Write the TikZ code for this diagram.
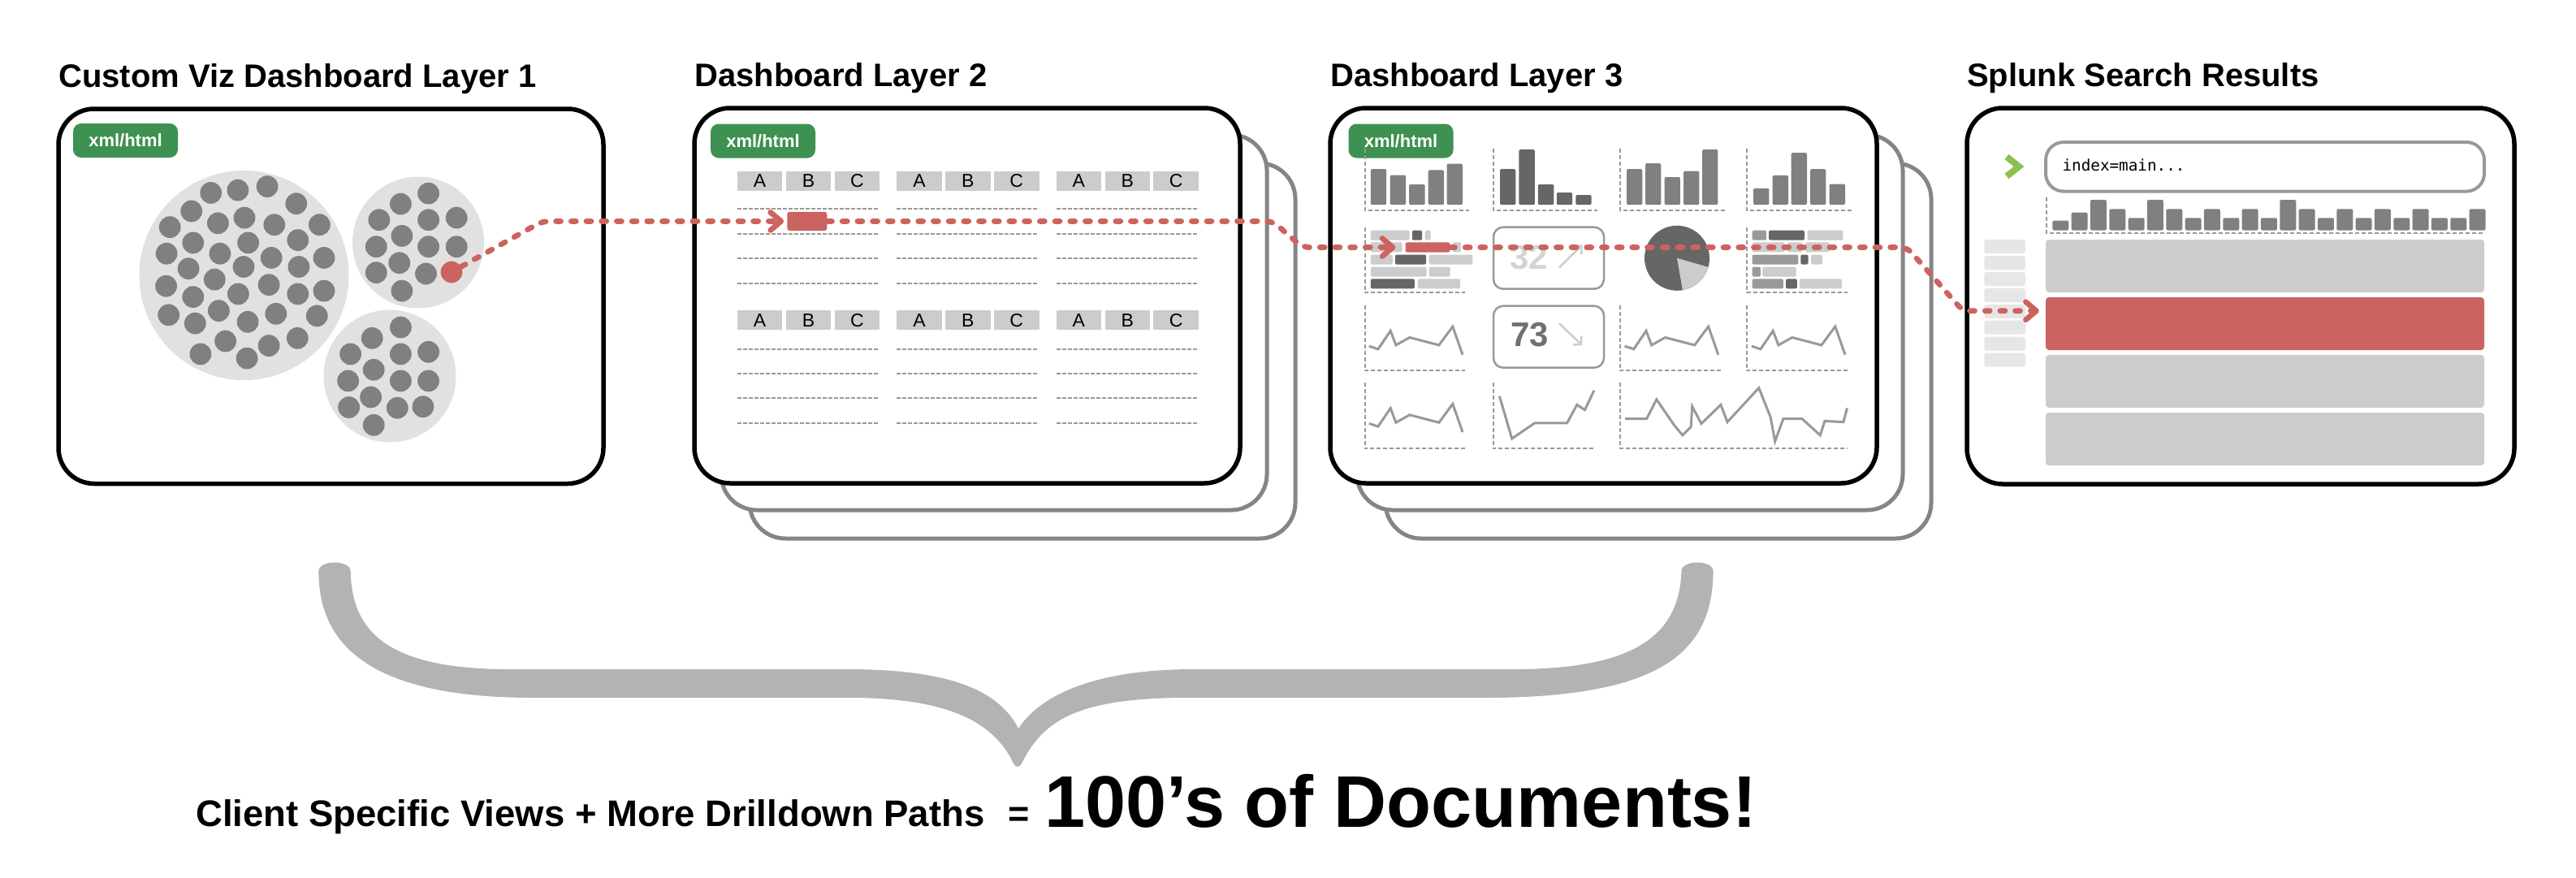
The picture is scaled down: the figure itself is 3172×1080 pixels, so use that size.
\documentclass[tikz,border=0pt]{standalone}
\usepackage{fontspec}
\setmainfont{Liberation Sans}
\newfontfamily\codefont{DejaVu Sans Mono}
\usetikzlibrary{arrows.meta}

\definecolor{linkred}{HTML}{CC6360}
\definecolor{tagGreen}{HTML}{3E9150}
\definecolor{chevGreen}{HTML}{8CC152}
\definecolor{dotGray}{HTML}{808080}
\definecolor{clusterGray}{HTML}{E1E1E1}
\definecolor{cellGray}{HTML}{CCCCCC}
\definecolor{lineGray}{HTML}{999999}
\definecolor{backGray}{HTML}{858585}
\definecolor{darkGray}{HTML}{666666}
\definecolor{braceGray}{HTML}{B3B3B3}
\definecolor{sideGray}{HTML}{E6E6E6}

\begin{document}
\begin{tikzpicture}[x=1pt,y=-1pt,
  panel/.style={draw=black, line width=5.5pt, fill=white, rounded corners=44pt},
  backpanel/.style={draw=backGray, line width=5pt, fill=white, rounded corners=44pt},
  tag/.style={fill=tagGreen, rounded corners=10pt, text=white, inner sep=0pt,
    minimum width=129pt, minimum height=42pt, font=\bfseries\fontsize{22}{22}\selectfont},
  title/.style={anchor=base west, inner sep=0pt, font=\bfseries\fontsize{40}{40}\selectfont},
  cell/.style={fill=cellGray, inner sep=0pt, minimum width=55.5pt, minimum height=24.5pt,
    font=\fontsize{23}{23}\selectfont},
  rowline/.style={draw=lineGray, line width=2pt, dash pattern=on 5pt off 2pt},
  frame/.style={draw=lineGray, line width=2pt, dash pattern=on 5pt off 3pt},
  sparkline/.style={draw=lineGray, line width=3pt},
  kpibox/.style={draw=lineGray, line width=2.5pt, rounded corners=12pt, inner sep=0pt,
    minimum width=136pt, minimum height=76pt},
  kpiarrow/.style={draw=cellGray, line width=2.5pt, -{Straight Barb[length=7pt,width=15pt]}},
  resrow/.style={fill=cellGray, rounded corners=4pt, inner sep=0pt,
    minimum width=540pt, minimum height=65pt},
  link/.style={draw=linkred, line width=6.7pt, dash pattern=on 6pt off 12.7pt,
    line cap=round, rounded corners=8pt,
    -{Straight Barb[length=13pt,width=22pt,line cap=round,line join=round]}},
  spark/.pic={\draw[sparkline] (0,0) -- (11.2,3.7) -- (26.5,-18.8) -- (33.2,-1.2)
     -- (50,-10.6) -- (86.2,-1.2) -- (103.1,-24.1) -- (115.3,10.6);}
]
\useasboundingbox (0,0) rectangle (3172,1080);
\fill[white] (0,0) rectangle (3172,1080);

% ---------- titles ----------
\node[title] (t1) at (72,107) {Custom Viz Dashboard Layer 1};
\node[title] (t2) at (855,106) {Dashboard Layer 2};
\node[title] (t3) at (1638,106) {Dashboard Layer 3};
\node[title] (t4) at (2422,106) {Splunk Search Results};

% ---------- panel 1: clustered bubbles ----------
\draw[panel] (72,134) rectangle (743,595.5);
\node[tag] (tag1) at (154.5,173) {xml/html};
\fill[clusterGray] (300.5,339) circle[radius=129];
\fill[clusterGray] (515,298.5) circle[radius=81];
\fill[clusterGray] (480,463) circle[radius=81.5];
\foreach \x/\y in {259.7/237.4, 292.9/234.1, 329.1/229.6, 364.8/250.7, 235.7/260,
  268.4/274.8, 301/268.1, 337.8/276.7, 393.4/276.7, 209.2/279.6, 237.8/298.9,
  270.9/312.2, 305.6/298.9, 366.8/295.6, 205.1/312.2, 334.2/317.4, 399/317.4,
  232.1/330.7, 300/328.5, 367.9/328.5, 264.3/344.1, 204.6/352.2, 293.4/361.9,
  331.1/350.7, 237.8/365.6, 366.8/361.9, 399/358.1, 269.4/382.6, 207.7/387.8,
  240.3/398.1, 305.1/396.3, 339.8/386.3, 390.3/388.9, 277.6/420, 246.9/435.9,
  304.1/441.1, 331.1/425.6, 366.3/416.3,
  527.6/238.1, 493.4/251.1, 466.8/270.7, 527.6/270.7, 562.2/268.1, 494.9/290.4,
  463.3/303.7, 527.6/303.7, 562.2/303.7, 491.8/323.7, 463.3/335.6, 524.5/337,
  494.9/358.1,
  493.4/403, 458.2/416.3, 431.6/435.9, 493.4/435.9, 527.6/433.3, 460.2/455.2,
  428.6/468.9, 493.4/468.9, 527.6/468.9, 456.6/488.9, 429.6/501.5, 489.3/502.2,
  520.9/500.7, 460.2/523.3}
  \fill[dotGray] (\x,\y) circle[radius=13.4];
\node[circle, fill=linkred, inner sep=0pt, minimum size=26.8pt] (src) at (556,335) {};

% ---------- panel 2: tables ----------
\draw[backpanel] (923,201) rectangle (1595,663);
\draw[backpanel] (888,166) rectangle (1560,628);
\draw[panel] (855,133) rectangle (1527,595);
\node[tag] (tag2) at (939.5,173.5) {xml/html};
\foreach \g in {0,1,2}{
  \foreach \c/\l in {0/A,1/B,2/C}{
    \node[cell] (ha-\g-\c) at (935.55+196.4*\g+59.9*\c,222.8) {\l};
    \node[cell] (hb-\g-\c) at (935.55+196.4*\g+59.9*\c,394.2) {\l};
  }
  \foreach \y in {256.5,287.7,318,349,429.5,459.5,489.5,521}
    \draw[rowline] (907.8+196.4*\g,\y) -- ++(175,0);
}
\node[fill=linkred, rounded corners=3pt, inner sep=0pt, minimum width=49pt,
  minimum height=23.3pt] (cellhit) at (993.8,272.4) {};

% ---------- panel 3: charts ----------
\draw[backpanel] (1706,201) rectangle (2378,663);
\draw[backpanel] (1671,166) rectangle (2343,628);
\draw[panel] (1638,133) rectangle (2311,595);
\node[tag] (tag3) at (1725,173.5) {xml/html};

% widget frames
\foreach \l/\r in {1680.6/1809, 1838.8/1967, 1995/2124, 2151/2279.6}
  \draw[frame] (\l,182.9) -- (\l,259) -- (\r,259);
\draw[frame] (1680.6,280) -- (1680.6,360.4) -- (1804,360.4);
\draw[frame] (2151,280) -- (2151,360.4) -- (2274.5,360.4);
\draw[frame] (1680.6,375.5) -- (1680.6,456.3) -- (1804,456.3);
\draw[frame] (1995,375.5) -- (1995,456.3) -- (2119,456.3);
\draw[frame] (2151,375.5) -- (2151,456.3) -- (2274.5,456.3);
\draw[frame] (1680.6,470.6) -- (1680.6,552) -- (1804,552);
\draw[frame] (1838.8,470.6) -- (1838.8,552) -- (1962,552);
\draw[frame] (1995,470.6) -- (1995,552) -- (2274.5,552);

% column charts
\foreach \x/\t in {1687.8/208.2, 1711.7/215.5, 1735.2/227, 1758.7/209.4, 1781.6/201.6,
  2003/208.2, 2026/201.2, 2049.5/218, 2073/210.6, 2096/184.1,
  2159/231.8, 2182.6/215.9, 2205.6/188.2, 2229/208.2, 2252.6/226.5}
  \fill[dotGray, rounded corners=1.5pt] (\x,\t) rectangle (\x+19.4,252.2);
\foreach \x/\t in {1847/208.2, 1870.4/184.1, 1893.9/227, 1916.8/237.1, 1940.3/240}
  \fill[darkGray, rounded corners=1.5pt] (\x,\t) rectangle (\x+19.4,252.2);

% horizontal bar charts
\foreach \a/\b/\y/\c in {
  1687.8/1735.7/283.7/cellGray, 1738.8/1751/283.7/darkGray, 1754.6/1761.7/283.7/cellGray,
  1687.8/1726.5/298.4/cellGray, 1788.8/1799/298.4/cellGray,
  1687.8/1714.8/313.5/cellGray, 1717.9/1756.1/313.5/darkGray, 1759.7/1813.3/313.5/cellGray,
  1687.8/1756.6/328.6/cellGray, 1759.7/1785.7/328.6/cellGray,
  1687.8/1741.8/343.3/darkGray, 1745.9/1798/343.3/cellGray,
  2157.7/2175/283.7/lineGray, 2178/2222/283.7/darkGray, 2225.5/2269.4/283.7/cellGray,
  2157.7/2197.4/298.4/cellGray, 2201/2219.4/298.4/cellGray, 2223/2252.6/298.4/cellGray,
  2157.7/2214.3/313.5/lineGray, 2217.3/2226.5/313.5/darkGray, 2230/2243.9/313.5/cellGray,
  2157.7/2167.9/328.6/lineGray, 2170.4/2211.7/328.6/cellGray,
  2157.7/2195.9/343.3/lineGray, 2199/2212.8/343.3/darkGray, 2215.8/2267.9/343.3/cellGray}
  \fill[\c, rounded corners=2pt] (\a,\y) rectangle (\b,\y+12);
\node[fill=linkred, rounded corners=2pt, inner sep=0pt, minimum width=54.6pt,
  minimum height=12.2pt] (barhit) at (1757.9,304.5) {};

% single value boxes
\node[kpibox] (kpi1) at (1907,317.7) {};
\node[kpibox] (kpi2) at (1907,414.7) {};
\node[anchor=base west, inner sep=0pt, text=cellGray!85!white,
  font=\bfseries\fontsize{42}{42}\selectfont] (v32) at (1859,331.7) {32};
\node[anchor=base west, inner sep=0pt, text=black!56,
  font=\bfseries\fontsize{42}{42}\selectfont] (v73) at (1860,426.7) {73};
\draw[kpiarrow] (1920,329.3) -- (1948.3,301.7);
\draw[kpiarrow] (1920,398.3) -- (1948.3,425);

% pie chart
\fill[darkGray] (2065,317.8) circle[radius=40];
\fill[cellGray] (2065,317.8) -- (2103.45,328.83) arc[start angle=16, end angle=80, radius=40] -- cycle;

% line charts
\pic at (1685.7,426.1) {spark};
\pic at (2000.5,426.1) {spark};
\pic at (2156.7,426.1) {spark};
\pic at (1685.7,521.4) {spark};
\draw[sparkline] (1846.4,487.8) -- (1861.7,540) -- (1889.8,520.8) -- (1929.6,520.8)
  -- (1941.8,498.4) -- (1951.5,504.7) -- (1962.8,480.8);
\draw[sparkline] (2001,515.5) -- (2027.6,515.5) -- (2039.8,491.8) -- (2061.7,523.7)
  -- (2071.9,535.9) -- (2082.1,525.7) -- (2083.7,500.4) -- (2094.9,521.6)
  -- (2118.9,498.4) -- (2127,519.6) -- (2165.8,477.6) -- (2180.1,513.5)
  -- (2185.7,543.3) -- (2195.9,515.5) -- (2218.9,515.5) -- (2241.3,535.9)
  -- (2246.9,518.4) -- (2269.9,519.6) -- (2274.5,502.4);

% ---------- panel 4: search results ----------
\draw[panel] (2422,133) rectangle (3096,596);
\draw[chevGreen, line width=8pt, line join=miter] (2471,193) -- (2486,205) -- (2471,217);
\node[draw=lineGray, line width=4pt, rounded corners=22pt, inner sep=0pt,
  minimum width=540pt, minimum height=60.6pt] (query) at (2789,205.3) {};
\node[anchor=base west, inner sep=0pt, font=\codefont\fontsize{19.3}{19.3}\selectfont]
  (qtext) at (2539.3,210.7) {index=main...};
\draw[frame] (2520,243) -- (2520,286.7) -- (3059,286.7);
\foreach \t [count=\i from 0] in {271.7, 261.7, 246, 257.3, 268.3, 246, 257.3, 268.3,
  257.3, 268.3, 257.3, 268.3, 246, 257.3, 268.3, 257.3, 268.3, 257.3, 268.3, 257.3,
  268.3, 268.3, 257.3}
  \fill[dotGray, rounded corners=2pt] (2527.3+23.33*\i,\t) rectangle (2547.3+23.33*\i,283.5);
\foreach \i in {0,...,7}
  \fill[sideGray, rounded corners=3pt] (2443.3,295.2+19.9*\i) rectangle (2494,312.2+19.9*\i);
\node[resrow] (res1) at (2789,327.5) {};
\node[resrow, fill=linkred] (res2) at (2789,398.5) {};
\node[resrow] (res3) at (2789,469.5) {};
\node[resrow] (res4) at (2789,540.5) {};

% ---------- drilldown path ----------
\draw[link, shorten >=4pt] (src) -- (668,272.4) -- (cellhit);
\draw[link, shorten >=12pt] (cellhit) -- (1567,272.4) -- (1604,304.5) -- (barhit);
\draw[link, shorten >=8pt] (barhit) -- (2348,304.5) -- (2417,382.7) -- (res2.west |- 0,382.7);

% ---------- brace ----------
\fill[braceGray] (392.4,703) .. controls (393,689) and (431,689) .. (431.7,703)
  .. controls (433,780) and (480,824) .. (628,824) -- (1043,824)
  .. controls (1170,824) and (1230,850) .. (1254,897)
  .. controls (1278,860) and (1340,824) .. (1470,824) -- (1862.7,824)
  .. controls (2000,824) and (2068,790) .. (2070.4,703)
  .. controls (2071,689) and (2109,689) .. (2109.6,703)
  .. controls (2109,800) and (2050,859) .. (1829,859) -- (1464,859)
  .. controls (1330,859) and (1285,885) .. (1258,940)
  .. controls (1256,945) and (1250,945) .. (1248,940)
  .. controls (1220,880) and (1150,859) .. (1043,859) -- (656,859)
  .. controls (450,859) and (392,790) .. (392.4,703) -- cycle;

% ---------- summary line ----------
\node[anchor=base west, inner sep=0pt, font=\bfseries\fontsize{45.5}{45.5}\selectfont]
  (lhs) at (241,1017.5) {Client Specific Views + More Drilldown Paths};
\node[anchor=base west, inner sep=0pt, font=\bfseries\fontsize{45}{45}\selectfont]
  (eq) at (1241,1017.5) {=};
\node[anchor=base west, inner sep=0pt, font=\bfseries\fontsize{90}{90}\selectfont]
  (rhs) at (1286,1018) {100’s of Documents!};
\end{tikzpicture}
\end{document}
